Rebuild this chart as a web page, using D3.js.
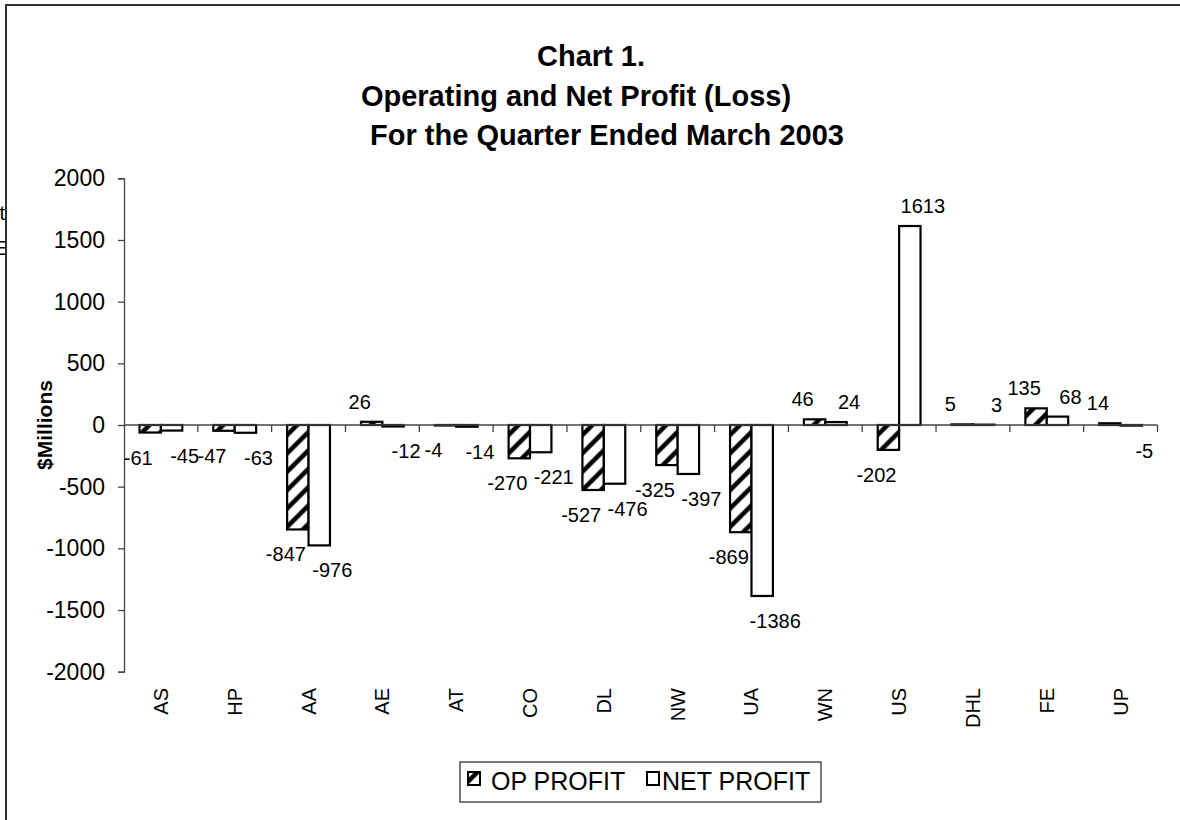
<!DOCTYPE html>
<html>
<head>
<meta charset="utf-8">
<script src="https://cdn.jsdelivr.net/npm/d3@7/dist/d3.min.js"></script>
<style>
  body { margin: 0; background: #fff; }
  text { font-family: "Liberation Sans", Arial, sans-serif; fill: #000; }
</style>
</head>
<body>
<svg id="chart" width="1180" height="820"></svg>
<script>
// data ---------------------------------------------
var carriers = ["AS", "HP", "AA", "AE", "AT", "CO", "DL", "NW", "UA", "WN", "US", "DHL", "FE", "UP"];
var opProfit = [-61, -47, -847, 26, -4, -270, -527, -325, -869, 46, -202, 5, 135, 14];
var netProfit = [-45, -63, -976, -12, -14, -221, -476, -397, -1386, 24, 1613, 3, 68, -5];
var seriesKeys = ["op", "net"];
var seriesNames = ["OP PROFIT", "NET PROFIT"];
var yTicks = [2000, 1500, 1000, 500, 0, -500, -1000, -1500, -2000];
var titleLines = ["Chart 1.", "Operating and Net Profit (Loss)", "For the Quarter Ended March 2003"];

var rows = carriers.map(function(c, i){
    return { cat: c, op: opProfit[i], net: netProfit[i] };
});

// svg ----------------------------------------------
var svg = d3.select("#chart");

var defs = svg.append("defs");
var hatch = defs.append("pattern")
    .attr("id", "hatch")
    .attr("patternUnits", "userSpaceOnUse")
    .attr("width", 13).attr("height", 13)
    .attr("patternTransform", "rotate(45)");
hatch.append("rect").attr("width", 13).attr("height", 13).attr("fill", "#fff");
hatch.append("line")
    .attr("x1", 6.5).attr("y1", 0).attr("x2", 6.5).attr("y2", 13)
    .attr("stroke", "#000").attr("stroke-width", 4.5);

// outer frame (top + left edges visible)
svg.append("path")
    .attr("d", "M6,830 L6,5 L1185,5")
    .attr("fill", "none").attr("stroke", "#333").attr("stroke-width", 2);

// clipped leftovers at the left edge
svg.append("text").attr("x", -0.5).attr("y", 220).style("font-size", "20px").text("t");
svg.append("text").attr("x", -6).attr("y", 255).style("font-size", "20px").text("E");

// title
var titlePos = [[591, 66], [576, 106], [607, 145]];
svg.selectAll("text.title").data(titleLines).enter().append("text")
    .attr("class", "title")
    .attr("x", function(d, i){ return titlePos[i][0]; })
    .attr("y", function(d, i){ return titlePos[i][1]; })
    .attr("text-anchor", "middle")
    .style("font-size", "29px").style("font-weight", "bold")
    .text(function(d){ return d; });

// scales
var x0 = 124, x1 = 1157.5;
var x = d3.scaleBand().domain(carriers).range([x0, x1]).padding(0);
var bw = x.bandwidth();
var xs = d3.scaleBand().domain(seriesKeys).range([bw * 0.21, bw * 0.79]).padding(0);
var y = d3.scaleLinear().domain([-2000, 2000]).range([671.7, 178.3]);

// y axis
var yAxis = d3.axisLeft(y).tickValues(yTicks).tickSize(6).tickPadding(13)
    .tickFormat(function(d){ return String(d); });
var gy = svg.append("g").attr("transform", "translate(" + x0 + ",0)").call(yAxis);
gy.select(".domain").attr("stroke", "#444").attr("stroke-width", 1.3);
gy.selectAll(".tick line").attr("stroke", "#444").attr("stroke-width", 1.3);
gy.selectAll(".tick text").style("font-size", "23px").style("font-family", "Liberation Sans, Arial, sans-serif").attr("fill", "#000");

svg.append("text")
    .attr("transform", "translate(52,425) rotate(-90)")
    .attr("text-anchor", "middle")
    .style("font-size", "21px").style("font-weight", "bold")
    .text("$Millions");

// bars
var groups = svg.selectAll("g.cat").data(rows).enter().append("g")
    .attr("class", "cat")
    .attr("transform", function(d){ return "translate(" + x(d.cat) + ",0)"; });

groups.selectAll("rect").data(function(d){
        return seriesKeys.map(function(k){ return { key: k, value: d[k] }; });
    }).enter().append("rect")
    .attr("x", function(d){ return xs(d.key); })
    .attr("width", xs.bandwidth())
    .attr("y", function(d){ return y(Math.max(0, d.value)); })
    .attr("height", function(d){ return Math.abs(y(d.value) - y(0)); })
    .attr("fill", function(d){ return d.key == "op" ? "url(#hatch)" : "#fff"; })
    .attr("stroke", "#000").attr("stroke-width", 2.2);

// x axis line + ticks at category boundaries
svg.append("line")
    .attr("x1", x0).attr("x2", x1).attr("y1", y(0)).attr("y2", y(0))
    .attr("stroke", "#444").attr("stroke-width", 1.3);
svg.selectAll("line.xtick").data(carriers).enter().append("line")
    .attr("class", "xtick")
    .attr("x1", function(d){ return x(d) + bw; }).attr("x2", function(d){ return x(d) + bw; })
    .attr("y1", y(0)).attr("y2", y(0) + 7)
    .attr("stroke", "#444").attr("stroke-width", 1.3);

// category labels
svg.selectAll("text.cat").data(carriers).enter().append("text")
    .attr("class", "cat")
    .attr("transform", function(d){ return "translate(" + (x(d) + bw / 2 + 7) + ",688) rotate(-90)"; })
    .attr("text-anchor", "end")
    .style("font-size", "20px")
    .text(function(d){ return d; });

// value labels (op labels sit left, net labels right, like the excel export)
groups.selectAll("text.val").data(function(d){
        return seriesKeys.map(function(k){ return { key: k, value: d[k] }; });
    }).enter().append("text")
    .attr("class", "val")
    .attr("x", function(d){ return xs(d.key) + xs.bandwidth() / 2 + (d.key == "op" ? -12 : 13); })
    .attr("y", function(d){ return d.value < 0 ? y(d.value) + 32 : y(d.value) - 13; })
    .attr("text-anchor", "middle")
    .style("font-size", "20px")
    .text(function(d){ return d.value; });

// legend
var lg = svg.append("g").attr("transform", "translate(460,762)");
lg.append("rect").attr("width", 361).attr("height", 40)
    .attr("fill", "#fff").attr("stroke", "#333").attr("stroke-width", 1.3);
var legendX = [[8, 31], [187, 202]];
seriesKeys.forEach(function(k, i){
    lg.append("rect")
        .attr("x", legendX[i][0]).attr("y", 10).attr("width", 12).attr("height", 13)
        .attr("fill", k == "op" ? "url(#hatch)" : "#fff")
        .attr("stroke", "#000").attr("stroke-width", 2);
    lg.append("text")
        .attr("x", legendX[i][1]).attr("y", 28)
        .style("font-size", "25px")
        .text(seriesNames[i]);
});
</script>
</body>
</html>
